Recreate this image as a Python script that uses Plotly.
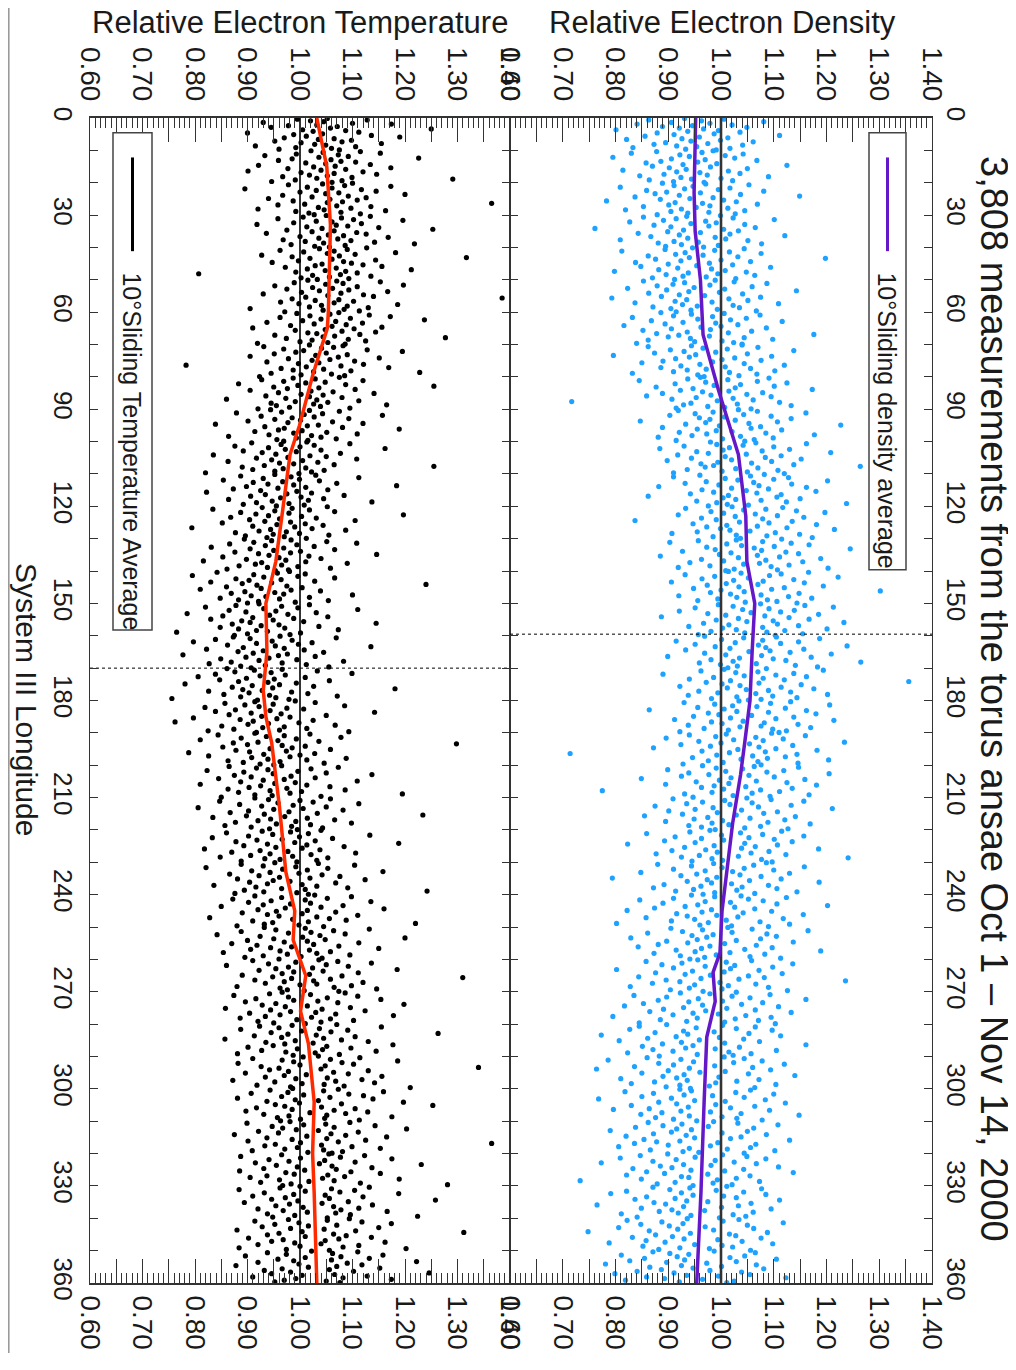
import plotly.graph_objects as go

# ---------------- data ----------------
# 10-degree sliding averages (longitude, relative value)
T_AVG_LON = [0, 15, 33, 50, 60, 65, 79, 95, 104, 120, 137, 150, 165, 177, 185, 193, 213, 233, 245, 254, 260, 265, 276, 286, 304, 320, 332, 360]
T_AVG_VAL = [1.032, 1.051, 1.058, 1.056, 1.054, 1.052, 1.025, 0.999, 0.981, 0.968, 0.954, 0.935, 0.937, 0.930, 0.935, 0.946, 0.961, 0.973, 0.990, 0.987, 1.000, 1.011, 1.001, 1.016, 1.027, 1.024, 1.027, 1.032]
D_AVG_LON = [0, 23, 35, 50, 67, 84, 104, 123, 137, 150, 165, 180, 193, 203, 218, 233, 245, 258, 264, 273, 284, 304, 332, 360]
D_AVG_VAL = [0.952, 0.949, 0.951, 0.961, 0.966, 0.995, 1.033, 1.047, 1.049, 1.064, 1.059, 1.055, 1.045, 1.037, 1.022, 1.011, 1.002, 0.998, 0.985, 0.989, 0.973, 0.968, 0.962, 0.954]

# local level of each 10-degree bin (thousandths) and estimated point scatter about it (thousandths)
BIN_WIDTH = 10
T_BIN_MEAN = [1040, 1051, 1055, 1058, 1057, 1055, 1052, 1033, 1015, 999, 980, 972, 964, 956, 940, 935, 937, 931, 937, 948, 955, 962, 968, 976, 990, 990, 1010, 1002, 1015, 1022, 1027, 1025, 1025, 1028, 1030, 1032]
D_BIN_MEAN = [951, 950, 949, 951, 958, 963, 966, 980, 997, 1015, 1034, 1042, 1047, 1049, 1058, 1063, 1059, 1056, 1052, 1044, 1035, 1025, 1017, 1010, 1002, 999, 986, 985, 973, 970, 968, 966, 963, 961, 958, 955]

T_DEV = [
    [12,-45,88,-20,5,-110,60,134,-8,-62,31,-95,18,210,-35,47,-15,72,-140,3,-52,96,-28,150,-70,25,-5,58,-88,40,-38,115,-12,9,-125,66,-48,20,-80,35],
    [-30,64,-7,102,-58,22,-118,41,-15,175,-66,8,-92,27,55,-40,-2,83,-130,16,-25,122,-74,36,-11,-150,69,-49,14,95,-33,1,-84,48,-19,240,-60,29,-105,10],
    [45,-12,-77,30,118,-41,6,-160,62,-24,90,-55,19,-6,145,-88,37,-32,71,-115,2,54,-68,26,-3,310,-46,-97,15,80,-20,42,-135,-9,108,-63,23,-38,60,-28],
    [-8,76,-52,21,-100,44,138,-27,3,-70,59,-140,11,33,-45,92,-16,195,-83,7,-35,50,-122,68,-4,25,-58,110,-22,14,-90,39,-48,84,-13,160,-75,28,-30,-2],
    [70,-20,33,-95,8,-50,125,-5,48,-130,18,-72,260,-38,4,87,-60,26,-110,41,-15,63,-28,99,-85,12,-43,155,-9,30,-65,52,-250,20,-33,78,-1,-55,36,-24],
    [-40,15,98,-66,27,-6,142,-103,54,-31,7,-80,38,-18,112,-52,23,-125,66,-2,85,-44,330,-70,19,-26,47,-92,10,-57,131,-14,35,-37,75,-150,29,-11,58,-84],
    [22,-58,5,80,-33,120,-90,44,-12,185,-47,16,-115,67,-25,36,-70,9,104,-142,51,-4,-61,28,92,-37,-20,62,-100,14,-8,225,-78,40,-29,73,-52,1,-133,34],
    [-15,49,-102,31,8,-64,95,-26,162,-41,17,-82,57,-3,-128,40,118,-55,24,-10,71,-96,3,-36,88,-250,45,-21,136,-69,12,-46,64,-7,195,-88,27,-31,52,-110],
    [60,-28,14,-88,105,-46,33,-4,-132,72,-19,240,-65,21,-39,90,-110,6,48,-56,126,-13,29,-80,3,65,-42,-155,17,97,-24,38,-70,11,150,-60,24,-35,80,-95],
    [-55,19,76,-34,-120,44,9,158,-73,28,-14,94,-47,2,-98,63,-22,121,-160,36,15,-66,82,-29,190,-40,5,-85,52,-11,110,-58,23,-135,41,-6,70,-43,16,-30],
    [33,-72,115,-16,47,-104,20,-40,182,-8,60,-88,13,-52,97,-26,-145,39,70,-3,-63,128,-34,25,-117,54,-19,8,85,-48,275,-90,31,-12,-70,66,-28,42,-160,18],
    [-20,58,-85,11,140,-42,27,-118,65,-5,-61,98,-33,16,212,-74,39,-14,-99,81,-47,22,-150,50,3,-38,112,-66,30,-9,73,-108,44,-25,165,-55,7,-80,36,-17],
    [88,-36,21,-130,54,-12,102,-77,15,-48,233,-24,39,-96,67,-3,-60,141,-31,18,-112,46,-8,80,-54,26,-170,59,-20,123,-42,10,-87,35,-15,91,-68,6,-27,48],
    [-62,27,-10,95,-44,152,-90,38,-22,71,-125,13,-51,110,-6,45,-80,26,-35,190,-15,61,-103,4,84,-58,17,-140,55,-29,134,-41,9,-72,40,-18,102,-95,22,-3],
    [40,-98,17,70,-28,-145,56,-9,126,-62,24,-37,88,-110,6,-50,300,-22,35,-80,64,-14,-130,43,99,-45,12,-71,29,160,-33,-5,78,-92,21,-57,114,-19,51,-40],
    [-13,83,-57,30,-115,61,-4,175,-70,19,-38,96,-150,42,7,-82,118,-25,53,-105,14,-46,72,-30,210,-64,25,-9,101,-87,36,-52,138,-18,3,-170,66,-35,46,-60],
    [25,-64,132,-32,-98,48,10,-140,86,-20,60,-75,16,198,-45,33,-115,71,-7,-55,108,-26,39,-160,22,92,-40,4,-88,57,-15,146,-68,29,-110,75,-3,-50,118,-30],
    [-70,35,-18,102,-55,14,168,-92,41,-7,-125,79,-33,20,-84,125,-48,8,62,-150,30,-22,95,-60,17,250,-40,-3,-105,53,-28,84,-76,11,140,-44,23,-175,48,-12],
    [54,-23,92,-80,12,-42,148,-15,-118,38,70,-60,6,-98,205,-30,27,-72,113,-10,44,-140,19,-51,88,-26,-175,61,3,-36,130,-86,33,-8,76,-63,24,-112,156,-20],
    [-34,71,-104,22,-12,130,-60,45,-138,10,88,-28,-75,350,-48,18,62,-95,37,-5,110,-70,26,-44,-160,80,-17,52,-122,33,-40,140,-9,65,-85,14,-56,98,-24,2],
    [10,-90,118,-38,66,-16,-132,41,-62,95,-6,182,-80,28,-48,74,-110,15,-25,154,-68,36,-3,-145,58,-30,102,-52,20,-92,131,-12,48,-72,26,240,-41,-8,85,-105],
    [-48,96,-22,38,-115,63,-4,150,-77,25,-35,88,-156,44,-12,120,-60,17,-95,71,-30,272,-64,9,-128,52,-18,104,-42,30,-85,136,-7,58,-105,22,-55,81,-20,33],
    [72,-40,14,-108,48,-20,165,-66,31,-135,94,-2,-50,61,-90,22,220,-30,45,-75,116,-14,36,-150,70,-44,9,-98,138,-25,53,-62,18,-120,85,-35,-6,64,-80,26],
    [-24,59,-88,128,-46,16,-155,77,-9,38,-68,182,-33,22,-110,66,-54,100,-15,43,-95,148,-27,5,-72,92,-38,28,-140,56,-60,115,-11,34,-82,266,-45,18,-100,40],
    [38,-76,108,-25,62,-118,20,-45,145,-88,30,-8,-60,92,-140,50,-18,170,-70,24,-35,78,-100,14,-52,120,-30,42,-162,66,-4,98,-80,26,-42,230,-58,8,-110,55],
    [-58,20,142,-36,74,-102,31,-12,96,-148,48,-66,15,210,-40,58,-90,24,-20,122,-120,36,-72,84,-6,-46,160,-84,28,-28,68,-136,42,-14,105,-60,12,-95,52,-30],
    [26,-100,62,-18,126,-70,40,-150,82,-32,14,-56,175,-88,34,-22,101,-44,8,-120,70,-62,300,-26,48,-96,16,-40,110,-76,22,-10,88,-130,55,-48,136,-34,-2,64],
    [-36,84,-60,18,-128,108,-24,50,-86,152,-14,32,-106,70,-48,196,-74,12,-30,94,-144,40,-58,122,-20,28,-98,66,-40,176,-68,20,-116,56,-8,100,-82,38,-52,8],
    [55,-30,-92,140,-55,22,-128,76,-12,44,-70,248,-38,16,-102,90,-50,30,-158,64,-24,115,-80,10,-44,162,-66,36,-114,82,-20,28,-88,130,-42,14,-134,60,-28,20],
    [-16,92,-112,36,-56,164,-34,58,-140,80,-22,26,-96,318,-62,18,-80,108,-44,42,-126,70,-10,-52,134,-88,30,-30,96,-150,46,-70,120,-18,24,-104,62,-40,188,-36],
    [46,-84,18,132,-50,-120,66,-20,94,-62,30,-146,112,-36,8,-90,170,-28,52,-74,226,-56,14,-110,78,-42,38,-130,102,-8,60,-96,24,-48,148,-70,20,-26,86,-64],
    [-44,70,-126,24,-18,118,-78,40,-58,178,-32,10,-104,86,-66,34,-150,62,-12,140,-88,26,-40,100,-124,48,-24,340,-72,16,-92,74,-30,128,-54,20,-116,56,-10,36],
    [30,-60,98,-138,52,-24,150,-84,22,-46,80,-110,12,206,-70,36,-30,112,-94,44,-16,-140,72,-52,128,-36,28,-88,60,-120,18,164,-64,40,-8,-100,90,-42,256,-58],
    [-28,104,-66,32,-144,76,-18,48,-96,160,-40,20,-118,92,-56,28,-82,230,-32,64,-134,14,-48,110,-74,36,-22,84,-108,50,-60,138,-14,40,-90,68,-38,196,-80,24],
    [64,-52,22,-116,88,-32,144,-78,40,-14,-102,120,-48,16,-150,76,-26,282,-70,34,-92,58,-20,106,-128,44,-62,18,-84,132,-40,10,-110,82,-30,52,-146,172,-56,26],
    [-10,78,-94,30,-58,126,-136,46,-22,100,-74,28,-44,190,-112,58,-34,86,-154,38,-16,120,-66,24,-100,70,-50,214,-86,34,-28,96,-122,50,-40,142,-62,18,-80,44],
]

D_DEV = [
    [-20,55,-88,12,130,-45,28,-110,70,-5,-62,98,-30,16,-150,44,-14,85,-72,36,-40,160,-95,8,62,-25,-130,48,-8,110,-56,24,-78,90,-35,3,-118,66,-18,40],
    [35,-72,14,-120,92,-28,58,-10,-155,76,-44,20,118,-64,6,-92,42,-22,175,-80,30,-48,100,-16,-136,64,-34,10,86,-58,24,-104,140,-26,50,-6,-86,72,-40,18],
    [-60,22,104,-38,-2,-140,68,-18,46,-90,132,-52,12,-74,88,-28,200,-112,36,-8,-64,56,-166,80,-36,16,120,-48,30,-96,4,64,-24,-130,96,-44,28,-12,78,-70],
    [48,-16,-98,72,-36,150,-60,20,-124,40,-8,94,-78,26,-46,114,-190,54,-22,82,-52,10,-108,66,-30,170,-84,38,-14,58,-142,100,-40,6,-70,126,-26,44,-56,16],
    [-12,86,-64,30,-146,58,-26,118,-44,8,-96,74,-18,240,-82,42,-34,98,-120,20,-58,64,-4,-110,136,-40,24,-76,50,-160,90,-20,36,-62,106,-30,14,-88,70,-46],
    [26,-110,62,-32,124,-54,16,-84,96,-14,-140,44,-66,180,-24,34,-100,78,-42,6,-76,112,-170,52,-28,88,-50,20,-126,146,-36,60,-8,-92,72,-58,30,-20,104,-48],
    [-80,40,-22,108,-56,18,-134,82,-10,52,-98,150,-38,24,-72,66,-150,34,-4,120,-60,14,-114,92,-30,48,-88,210,-46,12,-66,78,-24,132,-104,36,-16,58,-126,74],
    [60,-36,-118,90,-14,32,-76,158,-50,10,-106,70,-28,-184,116,-40,46,-66,22,96,-90,4,-130,64,-20,140,-56,28,-94,76,-8,-44,122,-70,36,-148,88,-24,54,-12],
    [-36,94,-60,16,-152,72,-26,128,-84,40,-10,104,-120,30,-50,176,-74,18,-32,82,-108,52,-16,-138,98,-44,26,-90,64,-4,-280,114,-54,34,-68,136,-22,10,-82,60],
    [18,-96,54,-30,146,-64,28,-112,80,-8,-56,118,-36,12,-168,92,-44,38,-82,212,-18,60,-126,42,-60,100,-24,6,-94,70,-42,162,-70,22,-134,84,-12,48,-100,30],
    [-54,32,128,-42,8,-104,66,-18,-150,96,-30,44,-80,174,-58,14,-116,80,-26,50,-90,118,-14,-136,62,-40,24,-72,104,-48,230,-64,36,-6,-98,74,-32,16,-124,86],
    [40,-82,14,-132,86,-34,58,-10,160,-70,20,-110,92,-46,30,-160,120,-22,48,-78,6,138,-56,26,-100,72,-28,-180,64,-38,108,-14,34,-88,82,-50,196,-30,10,-66],
    [-26,70,-114,38,-4,96,-66,150,-42,18,-128,60,-20,110,-84,32,-56,-210,88,-12,44,-100,134,-36,22,-74,78,-48,168,-30,8,-92,56,-140,102,-18,40,-62,126,-10],
    [66,-20,-92,30,-146,84,-38,118,-10,52,-76,14,196,-60,28,-122,74,-30,98,-52,20,-164,62,-16,140,-86,36,-44,106,-108,24,-6,80,-70,46,-130,154,-24,58,-40],
    [-44,108,-20,56,-126,34,-70,164,-6,-94,80,-34,22,-152,100,-48,12,-84,136,-24,62,-110,38,-58,244,-14,-78,90,-40,18,-138,70,-28,114,-64,30,-102,48,-12,86],
    [12,-68,96,-40,150,-112,28,-22,76,-142,50,-6,-88,122,-54,20,-176,66,-30,104,-72,36,-14,170,-96,44,-48,84,-124,16,-60,138,-34,58,-82,24,-18,92,-106,40],
    [-90,46,-16,128,-58,20,-144,88,-32,54,-108,12,180,-70,26,-42,98,-126,34,-6,72,-90,150,-50,18,-160,112,-24,40,-78,64,-36,206,-100,8,-60,82,-28,124,-46],
    [30,-50,138,-94,14,-28,82,-166,48,-12,106,-70,24,-116,64,-38,300,-84,16,-54,96,-20,-134,58,-44,120,-8,34,-98,76,-62,10,146,-118,42,-26,88,-74,20,-4],
    [-18,80,-122,42,-64,154,-30,16,-96,70,-46,-188,110,-22,38,-76,128,-56,6,-104,86,-34,52,-140,162,-10,-70,30,-50,94,-114,24,-16,118,-84,46,-38,72,-130,58],
    [52,-34,-104,116,-54,22,-148,74,-20,36,-86,190,-44,10,-120,92,-64,28,-172,60,-12,138,-80,40,-28,-330,100,-52,16,78,-98,44,-6,160,-68,26,-40,102,-116,32],
    [-70,28,112,-44,6,-136,84,-26,52,-96,170,-58,18,-110,66,-16,-186,124,-38,32,-82,90,-20,-140,146,-48,12,-72,100,-30,40,-260,76,-52,24,-104,132,-12,58,-88],
    [24,-116,70,-18,132,-60,34,-90,-8,108,-150,46,-40,186,-74,14,-124,82,-32,56,-98,4,-170,116,-50,30,-76,96,-22,-130,64,-42,144,-10,-86,50,-62,20,102,-36],
    [-38,98,-76,20,-158,62,-16,140,-104,36,-54,84,-12,-124,118,-66,28,-194,90,-30,48,-86,22,168,-46,-110,74,-24,40,-140,106,-58,16,-92,224,-34,60,-14,-72,80],
    [76,-24,-130,52,-66,148,-8,34,-100,90,-40,12,-162,120,-56,26,-86,66,-18,-216,104,-36,44,-74,176,-28,10,-118,80,-48,30,-138,96,-62,20,-96,134,-22,54,-44],
    [-58,36,-14,122,-92,50,-156,78,-32,16,-112,104,-46,200,-70,24,-128,62,-20,-180,94,-38,40,-86,154,-10,-66,30,-144,116,-52,8,-96,72,-26,-200,128,-42,18,88],
    [14,-94,60,-34,166,-72,22,-138,88,-14,-54,106,-26,-170,76,-44,30,-102,138,-62,8,-118,68,-20,-156,98,-36,46,-84,190,-48,18,-126,84,-8,-76,56,-30,114,-58],
    [-30,72,-128,24,-60,150,-98,40,-16,112,-76,32,-184,86,-40,20,-110,130,-54,-6,66,-142,96,-24,48,-90,250,-64,12,-116,80,-36,28,-158,104,-46,16,-82,140,-20],
    [44,-62,-6,108,-150,36,-88,70,-28,176,-104,18,-46,94,-132,54,-20,-168,124,-56,26,-94,80,-14,-120,148,-38,10,-76,62,-190,110,-30,42,-100,86,-50,22,-140,118],
    [-76,30,-128,92,-20,56,-146,124,-44,14,-98,80,-36,-200,140,-58,24,-112,70,-14,-166,100,-48,34,-84,188,-26,-122,62,-40,16,-102,132,-64,42,-150,84,-18,50,-90],
    [36,-110,74,-46,-184,108,-22,54,-88,150,-60,18,-134,90,-30,-206,124,-70,38,-10,-120,82,-40,170,-80,26,-54,-160,102,-34,60,-96,20,-140,134,-48,8,-74,94,-28],
    [-46,88,-24,-150,60,-96,132,-38,16,-118,76,-62,-200,116,-18,40,-86,154,-52,22,-138,96,-30,50,-104,-172,124,-44,12,-80,70,-120,180,-28,34,-92,62,-58,110,-14],
    [20,-104,66,-40,142,-76,10,-128,96,-50,-22,-176,84,-60,36,-94,120,-32,-146,72,-16,52,-112,164,-44,-88,28,-130,100,-66,14,-160,90,-26,46,-100,136,-38,-8,78],
    [-64,40,-116,86,-12,-154,122,-48,26,-92,62,-190,104,-34,18,-78,146,-56,-130,80,-20,44,-104,174,-70,12,-142,92,-38,-24,66,-114,30,-230,110,-50,22,-84,58,-16],
    [50,-90,-20,116,-58,30,-140,82,-36,-170,124,-14,44,-102,68,-48,-124,150,-26,14,-88,96,-66,-196,72,-32,40,-112,134,-54,8,-78,100,-42,-150,62,-18,86,-120,36],
    [-22,76,-136,46,-70,160,-30,-110,92,-56,12,-152,104,-40,28,-94,-210,130,-16,58,-82,70,-50,-126,118,-28,36,-100,82,-64,-170,140,-8,44,-106,64,-36,20,-76,98],
    [32,-84,110,-52,-16,-144,90,-38,62,-100,150,-24,-128,74,-58,18,-174,112,-30,46,-90,-8,126,-68,24,-114,84,-44,-156,100,-20,40,-96,168,-62,10,-136,70,-34,56],
]

REF_LEVEL = 1.0
T_MARK_LON = 170
D_MARK_LON = 159.5
LON_RANGE = [0, 360]
VAL_RANGE = [0.60, 1.40]

LON_TICKS = list(range(0, 361, 10))
LON_LABELS = [str(v) if v % 30 == 0 else "" for v in LON_TICKS]
VAL_TICKS = [0.60, 0.65, 0.70, 0.75, 0.80, 0.85, 0.90, 0.95, 1.00, 1.05, 1.10, 1.15, 1.20, 1.25, 1.30, 1.35, 1.40]
VAL_LABELS = ["0.60", "", "0.70", "", "0.80", "", "0.90", "", "1.00", "", "1.10", "", "1.20", "", "1.30", "", "1.40"]

TITLE = "3,808 measurements from the torus ansae Oct 1 \u2013 Nov 14, 2000"


def expand(means, devs):
    lon, val = [], []
    for b, (m, dv) in enumerate(zip(means, devs)):
        n = len(dv)
        for i, d in enumerate(dv):
            lon.append(b * BIN_WIDTH + (i + 0.5) * BIN_WIDTH / n)
            val.append((m + d) / 1000.0)
    return lon, val


t_lon, t_val = expand(T_BIN_MEAN, T_DEV)
d_lon, d_val = expand(D_BIN_MEAN, D_DEV)

# ---------------- layout geometry (page pixels) ----------------
OFF = 8               # default body margin of the page
W, H = 1008, 1354
ML, MR, MT, MB = 82, 84, 110, 63
PW = W - ML - MR
PH = H - MT - MB
SPLIT = 420 / PW


def px(x):
    return (x - OFF - ML) / PW


def py(y):
    return 1 - (y - OFF - MT) / PH


FONT = "Liberation Sans, Arial, Helvetica, sans-serif"
INK = "#1a1a1a"
AX = "#333333"
DOT = 5.2

fig = go.Figure()

# temperature panel
fig.add_trace(go.Scatter(x=t_val, y=t_lon, mode="markers", xaxis="x", yaxis="y",
                         marker=dict(size=DOT, color="#000000", line=dict(width=0)), hoverinfo="skip"))
fig.add_trace(go.Scatter(x=[REF_LEVEL, REF_LEVEL], y=LON_RANGE, mode="lines", xaxis="x", yaxis="y",
                         line=dict(color="#000000", width=1.6), hoverinfo="skip"))
fig.add_trace(go.Scatter(x=VAL_RANGE, y=[T_MARK_LON, T_MARK_LON], mode="lines", xaxis="x", yaxis="y",
                         line=dict(color="#000000", width=1, dash="dot"), hoverinfo="skip"))
fig.add_trace(go.Scatter(x=T_AVG_VAL, y=T_AVG_LON, mode="lines", xaxis="x", yaxis="y",
                         line=dict(color="#ff2a00", width=3.5), hoverinfo="skip"))

# density panel
fig.add_trace(go.Scatter(x=d_val, y=d_lon, mode="markers", xaxis="x2", yaxis="y2",
                         marker=dict(size=DOT, color="#1ea2ff", line=dict(width=0)), hoverinfo="skip"))
fig.add_trace(go.Scatter(x=[REF_LEVEL, REF_LEVEL], y=LON_RANGE, mode="lines", xaxis="x2", yaxis="y2",
                         line=dict(color="#333333", width=2.6), hoverinfo="skip"))
fig.add_trace(go.Scatter(x=VAL_RANGE, y=[D_MARK_LON, D_MARK_LON], mode="lines", xaxis="x2", yaxis="y2",
                         line=dict(color="#000000", width=1, dash="dot"), hoverinfo="skip"))
fig.add_trace(go.Scatter(x=D_AVG_VAL, y=D_AVG_LON, mode="lines", xaxis="x2", yaxis="y2",
                         line=dict(color="#6418c8", width=3.5), hoverinfo="skip"))

# empty traces so that the top (label-carrying) axes are drawn
fig.add_trace(go.Scatter(x=[], y=[], xaxis="x3", yaxis="y", mode="markers", hoverinfo="skip"))
fig.add_trace(go.Scatter(x=[], y=[], xaxis="x4", yaxis="y2", mode="markers", hoverinfo="skip"))


def val_axis(domain, anchor, side, overlaying=None):
    d = dict(range=VAL_RANGE, domain=domain, anchor=anchor, side=side,
             tickmode="array", tickvals=VAL_TICKS, ticktext=VAL_LABELS,
             ticks="inside", ticklen=24, tickwidth=1, tickcolor=AX,
             minor=dict(tick0=0.6, dtick=0.01, ticks="inside", ticklen=10, tickwidth=1, tickcolor=AX),
             showline=True, linecolor=AX, linewidth=1.6,
             tickangle=90, tickfont=dict(family=FONT, size=28, color=INK),
             ticklabelstandoff=5,
             showgrid=False, zeroline=False, fixedrange=True)
    if overlaying:
        d["overlaying"] = overlaying
    return d


def lon_axis(anchor, side):
    return dict(range=[LON_RANGE[1], LON_RANGE[0]], domain=[0, 1], anchor=anchor, side=side,
                tickmode="array", tickvals=LON_TICKS, ticktext=LON_LABELS,
                ticks="inside", ticklen=8, tickwidth=1, tickcolor=AX,
                showline=True, linecolor=AX, linewidth=1.2, mirror="ticks",
                tickangle=90, tickfont=dict(family=FONT, size=26, color=INK),
                ticklabelstandoff=4,
                showgrid=False, zeroline=False, fixedrange=True)


fig.update_layout(
    width=W, height=H,
    margin=dict(l=ML, r=MR, t=MT, b=MB, pad=0),
    paper_bgcolor="white", plot_bgcolor="white",
    showlegend=False,
    font=dict(family=FONT, color=INK),
    xaxis=val_axis([0, SPLIT], "y", "bottom"),
    xaxis2=val_axis([SPLIT, 1], "y2", "bottom"),
    xaxis3=val_axis([0, SPLIT], "y", "top", overlaying="x"),
    xaxis4=val_axis([SPLIT, 1], "y2", "top", overlaying="x2"),
    yaxis=lon_axis("x", "left"),
    yaxis2=lon_axis("x2", "right"),
)

ann = [
    dict(text="Relative Electron Temperature", x=px(300), y=py(21), size=31, angle=0),
    dict(text="Relative Electron Density", x=px(722), y=py(21), size=31, angle=0),
    dict(text=TITLE, x=px(994), y=py(707), size=38, angle=90),
    dict(text="System III Longitude", x=px(27), y=py(708), size=30, angle=90),
]
for a in ann:
    fig.add_annotation(text=a["text"], x=a["x"], y=a["y"], xref="paper", yref="paper",
                       xanchor="center", yanchor="middle", textangle=a["angle"], showarrow=False,
                       font=dict(family=FONT, size=a["size"], color=INK))

# legend boxes
legends = [
    dict(x0=113, x1=152, y0=133, y1=637, color="#000000", text="10\u00b0Sliding Temperature Average"),
    dict(x0=869, x1=906, y0=133, y1=576, color="#6418c8", text="10\u00b0Sliding density average"),
]
for lg in legends:
    xc = (lg["x0"] + lg["x1"]) / 2
    fig.add_shape(type="rect", xref="paper", yref="paper", x0=px(lg["x0"]), x1=px(lg["x1"]),
                  y0=py(lg["y0"]), y1=py(lg["y1"]), line=dict(color="#444444", width=1.5),
                  fillcolor="white", layer="above")
    fig.add_shape(type="line", xref="paper", yref="paper", x0=px(xc), x1=px(xc),
                  y0=py(158), y1=py(253), line=dict(color=lg["color"], width=3), layer="above")
    fig.add_annotation(text=lg["text"], x=px(xc), y=py(272), xref="paper", yref="paper",
                       xanchor="center", yanchor="top", textangle=90, showarrow=False,
                       font=dict(family=FONT, size=25, color=INK))

# thin page border line at the left
fig.add_shape(type="line", xref="paper", yref="paper", x0=px(8.6), x1=px(8.6), y0=py(0), y1=py(1370),
              line=dict(color="#9a9a9a", width=2), layer="above")

fig.write_html("out.html")
